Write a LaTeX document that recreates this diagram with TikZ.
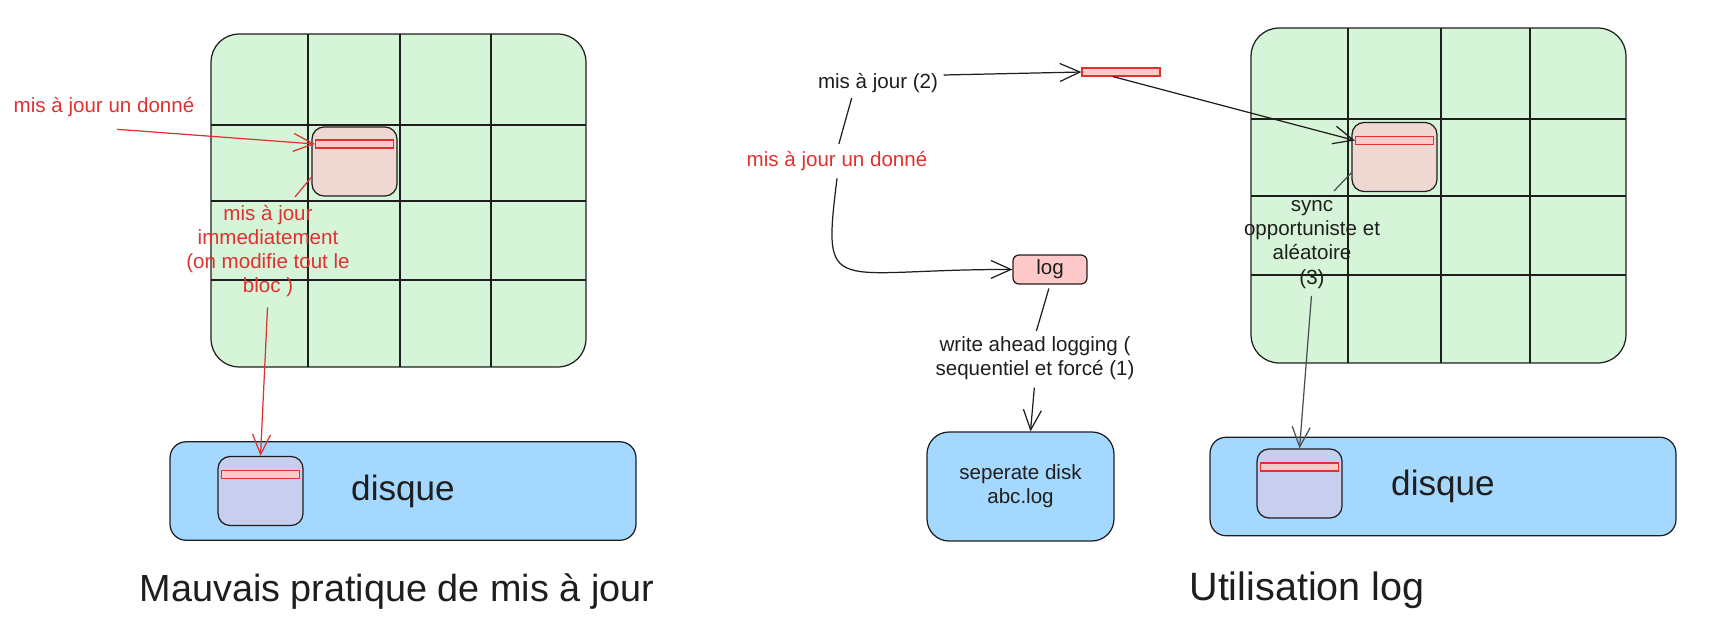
\documentclass[tikz,border=0pt]{standalone}
\usepackage{fontspec}
\setmainfont{Liberation Sans}
\usetikzlibrary{arrows.meta, positioning}

\definecolor{ink}{HTML}{1E1E1E}
\definecolor{pencil}{HTML}{4A4D52}
\definecolor{redink}{HTML}{E03131}
\definecolor{cellgreen}{RGB}{214,245,216}
\definecolor{blockpink}{RGB}{240,216,210}
\definecolor{diskblue}{HTML}{A5D8FF}
\definecolor{blocklilac}{RGB}{200,206,238}
\definecolor{barpink}{HTML}{FFC9C9}

\begin{document}
\begin{tikzpicture}[
            x = 0.02cm, y = -0.02cm, % one unit = one pixel of the sketch
            > = {Straight Barb[length=0.4cm, width=0.36cm]}, % arrow head style
            line width = 0.7pt, % line style
            ink
        ]

        \tikzstyle{small}=[font=\fontsize{11.7}{13.7}\selectfont, align=center, inner sep=0pt]
        \tikzstyle{big}=[font=\fontsize{20}{24}\selectfont]
        \tikzstyle{title}=[font=\fontsize{22}{26}\selectfont, inner sep=0pt]
        \tikzstyle{buffer}=[draw=ink, fill=cellgreen, rounded corners=0.56cm, minimum width=7.5cm, inner sep=0pt]
        \tikzstyle{page}=[draw=ink, rounded corners=0.24cm, minimum width=1.7cm, minimum height=1.38cm, inner sep=0pt]
        \tikzstyle{record}=[draw=redink, fill=barpink, minimum width=1.56cm, minimum height=0.16cm, inner sep=0pt]
        \tikzstyle{disk}=[draw=ink, fill=diskblue, rounded corners=0.32cm, minimum width=9.32cm, minimum height=1.97cm, big]
        \tikzstyle{cell}=[ink, line width=0.65pt]

        \useasboundingbox (0,0) rectangle (1718,635);

        % left: bad practice
        \node[buffer, minimum height=6.66cm] (bufL) at (398.5,200.5) {};
        \foreach \x in {308,400,491} \draw[cell] (\x,34) -- (\x,367);
        \foreach \y in {125,201,280} \draw[cell] (211,\y) -- (586,\y);
        \node[page, fill=blockpink] (blkL) at (354.5,161.5) {};
        \node[record, below=0.26cm of blkL.north] (recL) {};

        \node[small, text=redink] (majL) at (104,107) {mis à jour un donné};
        \node[small, text=redink] (immL) at (268,251) {mis à jour\\immediatement\\(on modifie tout le\\bloc )};
        \coordinate (immTip) at (295,197);

        \node[disk] (diskL) at (403,491) {disque};
        \node[page, fill=blocklilac, right=0.96cm of diskL.west] (dblkL) {};
        \node[record, below=0.28cm of dblkL.north] (drecL) {};

        \node[title, font=\fontsize{21.5}{26}\selectfont] (titleL) at (397,592) {Mauvais pratique de mis à jour};

        \draw[->, redink] ([shift={(13,12)}]majL.south) -- (recL.west);
        \draw[redink] (blkL.200) -- (immTip);
        \draw[->, redink, shorten <=0.2cm] (immL.south) -- (dblkL.north);

        % right: with a log
        \node[buffer, minimum height=6.7cm] (bufR) at (1438.5,195.5) {};
        \foreach \x in {1348,1441,1530} \draw[cell] (\x,28) -- (\x,363);
        \foreach \y in {119,196,275} \draw[cell] (1251,\y) -- (1626,\y);
        \node[page, fill=blockpink] (blkR) at (1394.5,157) {};
        \node[record, below=0.28cm of blkR.north] (recR) {};

        \node[small] (syncN) at (1312,244.5) {sync\\opportuniste et\\aléatoire\\(3)};
        \coordinate (syncTip) at (1334,191);

        \node[small] (maj2) at (878,83) {mis à jour (2)};
        \node[record] (recTop) at (1121,72) {};
        \node[small, text=redink] (majR) at (837,161) {mis à jour un donné};
        \node[small, draw=ink, fill=barpink, rounded corners=0.12cm, minimum width=1.48cm, minimum height=0.58cm] (logN) at (1050,269.5) {log};
        \node[small] (walN) at (1035,358) {write ahead logging (\\sequentiel et forcé (1)};
        \node[small, draw=ink, fill=diskblue, rounded corners=0.44cm, minimum width=3.74cm, minimum height=2.18cm] (sepDisk) at (1020.5,486.5) {seperate disk\\abc.log};

        \node[disk] (diskR) at (1443,486.5) {disque};
        \node[page, fill=blocklilac, right=0.94cm of diskR.west, yshift=0.06cm] (dblkR) {};
        \node[record, below=0.28cm of dblkR.north] (drecR) {};

        \node[title, font=\fontsize{22.5}{26}\selectfont] (titleR) at (1307,590) {Utilisation log};

        \draw[->] ([shift={(5,-8)}]maj2.east) -- (recTop.west);
        \draw[->] ([xshift=-0.16cm]recTop.south) -- (recR.west);
        \draw[shorten <=0.1cm, shorten >=0.14cm] ([xshift=-0.5cm]maj2.south) -- (majR.north);
        \draw[->] ([yshift=-0.14cm]majR.south) .. controls (822,300) and (830,269) .. (logN.west);
        \draw[shorten <=0.08cm, shorten >=0.1cm] (logN.south) -- (walN.north);
        \draw[->, shorten <=0.15cm] (walN.south) -- ([xshift=0.2cm]sepDisk.north);
        \draw[pencil] (blkR.200) -- (syncTip);
        \draw[->, pencil, shorten <=0.14cm] (syncN.south) -- (dblkR.north);

  \end{tikzpicture}
\end{document}
